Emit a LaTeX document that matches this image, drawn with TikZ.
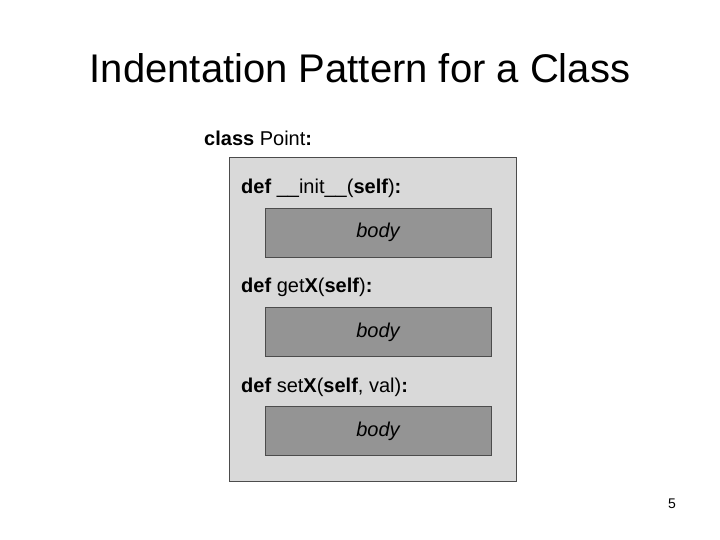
\documentclass[tikz,border=0pt]{standalone}
\usepackage{fontspec}
\setmainfont{Liberation Sans}
\usetikzlibrary{positioning}

\begin{document}
\begin{tikzpicture}[x=1pt, y=-1pt,
    classbox/.style={rectangle, draw=black!70, fill=black!15, line width=0.8pt},
    bodybox/.style={rectangle, draw=black!70, fill=black!42, line width=0.8pt, font=\fontsize{20}{24}\selectfont\itshape},
    code/.style={anchor=west, inner sep=0pt, font=\fontsize{20}{24}\selectfont}
]
\useasboundingbox (0,0) rectangle (720,540);

% Title
\node[font=\fontsize{40}{48}\selectfont] (title) at (360,68) {Indentation Pattern for a Class};

% Class header and outer box
\node[code] (cls) at (204,138) {\textbf{class} Point\textbf{:}};
\draw[classbox] (229,157) rectangle (516,481);

% Methods
\node[code] (m1) at (241,188) {\textbf{def} \_\_init\_\_(\textbf{self})\textbf{:}};
\node[bodybox, minimum width=226pt, minimum height=49pt] (b1) at (378,232.5) {body};

\node[code] (m2) at (241,287) {\textbf{def} get\textbf{X}(\textbf{self})\textbf{:}};
\node[bodybox, minimum width=226pt, minimum height=49pt] (b2) at (378,332) {body};

\node[code] (m3) at (241,387) {\textbf{def} set\textbf{X}(\textbf{self}, val)\textbf{:}};
\node[bodybox, minimum width=226pt, minimum height=49pt] (b3) at (378,431) {body};

% Page number
\node[font=\fontsize{14}{16}\selectfont] (page) at (672,504) {5};
\end{tikzpicture}
\end{document}
